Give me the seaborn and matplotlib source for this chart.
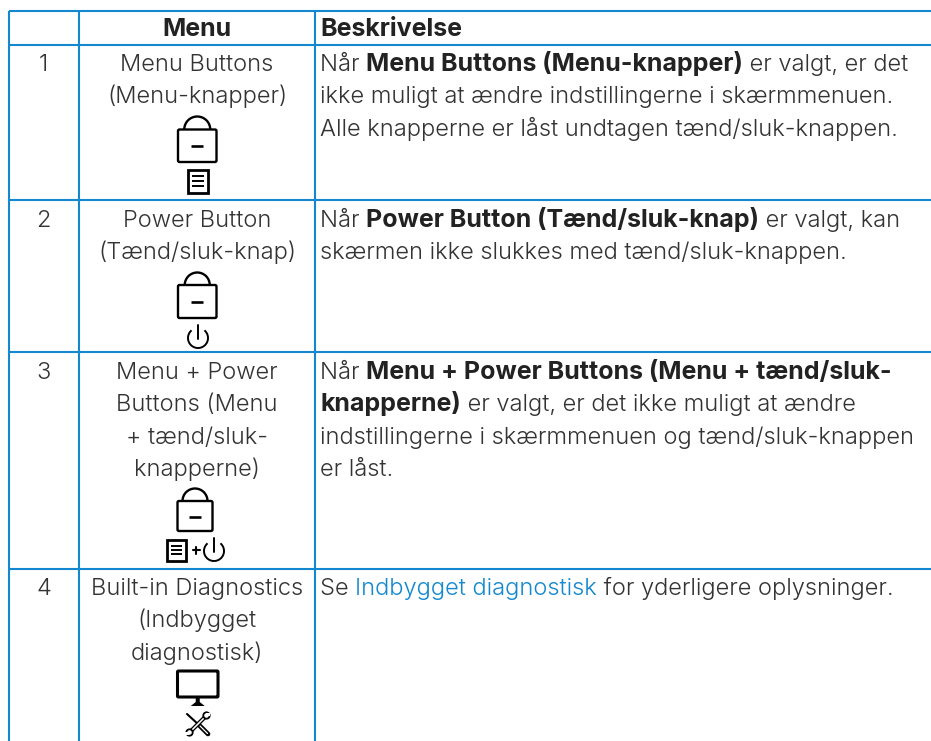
import matplotlib
matplotlib.use('Agg')
import matplotlib.pyplot as plt
from matplotlib.patches import Arc, Circle, FancyBboxPatch, Polygon, Rectangle
import seaborn as sns

sns.set_theme(style='white')
plt.rcParams['font.family'] = ['Inter', 'DejaVu Sans']

BLUE = '#1388d0'
DARK = '#333333'
FS = 17.05
FS_BOLD = 18.0

header = ['Menu', 'Beskrivelse']
row_numbers = ['1', '2', '3', '4']
menu_lines = [
    ['Menu Buttons', '(Menu-knapper)'],
    ['Power Button', '(Tænd/sluk-knap)'],
    ['Menu + Power', 'Buttons (Menu', '+ tænd/sluk-', 'knapperne)'],
    ['Built-in Diagnostics', '(Indbygget', 'diagnostisk)'],
]
# each line is a list of (text, style) runs
desc_lines = [
    [[('Når ', 'n'), ('Menu Buttons (Menu-knapper)', 'b'), (' er valgt, er det', 'n')],
     [('ikke muligt at ændre indstillingerne i skærmmenuen.', 'n')],
     [('Alle knapperne er låst undtagen tænd/sluk-knappen.', 'n')]],
    [[('Når ', 'n'), ('Power Button (Tænd/sluk-knap)', 'b'), (' er valgt, kan', 'n')],
     [('skærmen ikke slukkes med tænd/sluk-knappen.', 'n')]],
    [[('Når ', 'n'), ('Menu + Power Buttons (Menu + tænd/sluk-', 'b')],
     [('knapperne)', 'b'), (' er valgt, er det ikke muligt at ændre', 'n')],
     [('indstillingerne i skærmmenuen og tænd/sluk-knappen', 'n')],
     [('er låst.', 'n')]],
    [[('Se ', 'n'), ('Indbygget diagnostisk', 'l'), (' for yderligere oplysninger.', 'n')]],
]
col_edges = [8.5, 79, 315]
row_edges = [10.5, 44.5, 200, 352, 569]
row_baselines = [71, 227, 379, 595]
LINE = 32.4

fig = plt.figure(figsize=(9.31, 7.41), dpi=100)
ax = fig.add_axes([0, 0, 1, 1])
ax.set_xlim(0, 931)
ax.set_ylim(741, 0)
ax.axis('off')

# table grid, the right side runs off the picture
ax.vlines(col_edges, row_edges[0], 741, color=BLUE, lw=1.5)
ax.hlines(row_edges, col_edges[0], 931, color=BLUE, lw=1.5)

menu_x = (col_edges[1] + col_edges[2]) / 2
num_x = (col_edges[0] + col_edges[1]) / 2
desc_x = 320

ax.text(menu_x, 36, header[0], ha='center', va='baseline', fontsize=FS_BOLD, fontweight=700, color='#222222')
ax.text(desc_x, 36, header[1], ha='left', va='baseline', fontsize=FS_BOLD, fontweight=700, color='#222222')

for i, num in enumerate(row_numbers):
    ax.text(num_x, row_baselines[i], num, ha='center', va='baseline', fontsize=FS, fontweight=300, color=DARK)
    for j, line in enumerate(menu_lines[i]):
        ax.text(menu_x, row_baselines[i] + j * LINE, line, ha='center', va='baseline',
                fontsize=FS, fontweight=300, color=DARK)

# description runs are placed one after the other
fig.canvas.draw()
renderer = fig.canvas.get_renderer()
styles = {'n': (300, DARK, FS), 'b': (700, '#222222', FS_BOLD), 'l': (300, BLUE, FS)}
for i, lines in enumerate(desc_lines):
    for j, runs in enumerate(lines):
        x = desc_x
        y = row_baselines[i] + j * LINE
        for text, style in runs:
            weight, color, size = styles[style]
            t = ax.text(x, y, text, ha='left', va='baseline', fontsize=size, fontweight=weight, color=color)
            w, _, _ = renderer.get_text_width_height_descent(text, t.get_fontproperties(), False)
            x += w


def lock(x0, x1, y0, y1, top):
    cx = (x0 + x1) / 2
    ax.add_patch(FancyBboxPatch((x0, y0), x1 - x0, y1 - y0, boxstyle='round,pad=0,rounding_size=1.5',
                                fc='none', ec='black', lw=1.7))
    r = y0 - top
    ax.add_patch(Arc((cx, top + r), 2 * r, 2 * r, theta1=180, theta2=360, ec='black', lw=1.7))
    ax.plot([cx - 6, cx + 6], [(y0 + y1) / 2 + 0.5] * 2, color='black', lw=1.9, solid_capstyle='butt')


def doc(x0, x1, y0, y1):
    ax.add_patch(Rectangle((x0, y0), x1 - x0, y1 - y0, fc='none', ec='black', lw=2))
    h = y1 - y0
    for f in (0.3, 0.5, 0.7):
        ax.plot([x0 + 4, x1 - 4], [y0 + f * h] * 2, color='black', lw=1.4, solid_capstyle='butt')


def power(cx, cy, r):
    ax.add_patch(Arc((cx, cy), 2 * r, 2 * r, theta1=-50, theta2=230, ec='black', lw=1.4))
    ax.plot([cx, cx], [cy - r - 3, cy + 1], color='black', lw=1.4)


def monitor(x0, x1, y0, y1):
    cx = (x0 + x1) / 2
    ax.add_patch(FancyBboxPatch((x0, y0), x1 - x0, y1 - y0, boxstyle='round,pad=0,rounding_size=1',
                                fc='none', ec='black', lw=2.2))
    ax.add_patch(Polygon([[cx - 7, y1 + 9], [cx + 7, y1 + 9], [cx + 2, y1 + 5], [cx + 2, y1],
                          [cx - 2, y1], [cx - 2, y1 + 5]], fc='black', ec='none'))


def tools(cx, cy):
    # screwdriver, thin blade and fat handle
    ax.plot([cx - 11, cx + 1], [cy - 10, cy + 1], color='black', lw=1.5, solid_capstyle='round')
    ax.plot([cx + 1, cx + 10], [cy + 1, cy + 10], color='black', lw=3.4, solid_capstyle='round')
    ax.plot([cx + 2, cx + 9.5], [cy + 2, cy + 9.5], color='white', lw=0.9, solid_capstyle='round')
    # wrench, one open head at each end
    ax.plot([cx - 8, cx + 8], [cy + 8, cy - 8], color='black', lw=3.0, solid_capstyle='butt')
    ax.plot([cx - 7, cx + 7], [cy + 7, cy - 7], color='white', lw=1.1, solid_capstyle='butt')
    for hx, hy, notch in [(cx + 8.5, cy - 8.5, 1), (cx - 8.5, cy + 8.5, -1)]:
        ax.add_patch(Circle((hx, hy), 3.2, fc='white', ec='black', lw=1.3, zorder=3))
        ax.add_patch(Rectangle((hx - 0.5, hy - 1.5 - notch), 4 * notch, 3, fc='white', ec='none', zorder=4))


lock(178, 216.5, 129.5, 162, 116.5)
doc(187.5, 207.5, 169.5, 192.5)
lock(178, 216.5, 285, 318, 272.5)
power(198, 338, 10)
lock(177.5, 212.5, 501, 531, 488.5)
doc(166.5, 185.5, 539.5, 560.5)
ax.plot([192.5, 199.5], [550, 550], color='black', lw=1.5)
ax.plot([196, 196], [546.5, 553.5], color='black', lw=1.5)
power(214, 551, 10)
monitor(177.5, 218, 671, 697)
tools(198, 724)

plt.savefig('out.png', dpi=100)
